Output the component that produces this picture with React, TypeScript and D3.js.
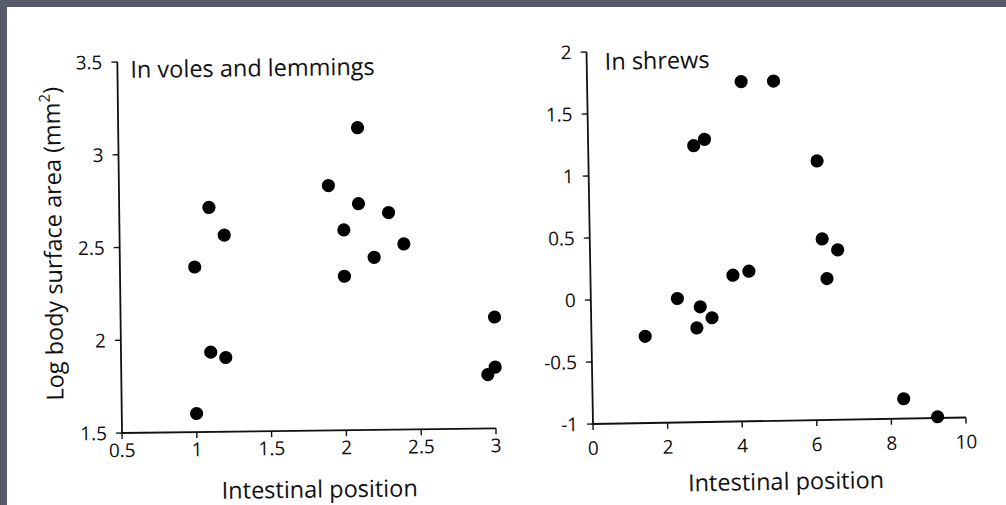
import React from "react";
import * as d3 from "d3";

// Voles and lemmings: intestinal position vs. log body surface area
const voleX = [1.1, 1.2, 1.0, 1.1, 1.2, 1.0, 2.1, 1.9, 2.1, 2.3, 2.0, 2.4, 2.2, 2.0, 3.0, 3.0, 2.95];
const voleY = [2.71, 2.56, 2.39, 1.93, 1.9, 1.6, 3.13, 2.82, 2.72, 2.67, 2.58, 2.5, 2.43, 2.33, 2.1, 1.83, 1.79];

// Shrews
const shrewX = [4.13, 5.0, 3.12, 2.83, 3.82, 4.25, 2.32, 2.93, 3.24, 2.83, 1.44, 6.13, 6.23, 6.64, 6.34, 8.34, 9.24];
const shrewY = [1.74, 1.74, 1.28, 1.23, 0.18, 0.21, 0.0, -0.07, -0.16, -0.24, -0.3, 1.09, 0.46, 0.37, 0.14, -0.84, -0.99];

const voleXTicks = [0.5, 1, 1.5, 2, 2.5, 3];
const voleXTickLabels = ["0.5", "1", "1.5", "2", "2.5", "3"];
const voleYTicks = [1.5, 2, 2.5, 3, 3.5];
const voleYTickLabels = ["1.5", "2", "2.5", "3", "3.5"];

const shrewXTicks = [0, 2, 4, 6, 8, 10];
const shrewXTickLabels = ["0", "2", "4", "6", "8", "10"];
const shrewYTicks = [-1, -0.5, 0, 0.5, 1, 1.5, 2];
const shrewYTickLabels = ["-1", "-0.5", "0", "0.5", "1", "1.5", "2"];

const FONT = "'Open Sans', 'Noto Sans', sans-serif";
const INK = "#111";

type PanelProps = {
  ox: number;
  oy: number;
  angle: number;
  width: number;
  height: number;
  xDomain: [number, number];
  yDomain: [number, number];
  xTicks: number[];
  xTickLabels: string[];
  yTicks: number[];
  yTickLabels: string[];
  xLabelOffset: number;
  xs: number[];
  ys: number[];
  title: string;
  titleX: number;
  titleY: number;
  xTitleX: number;
  xTitleY: number;
  yTitle?: boolean;
};

function Panel(p: PanelProps) {
  const x = d3.scaleLinear().domain(p.xDomain).range([0, p.width]);
  const y = d3.scaleLinear().domain(p.yDomain).range([0, -p.height]);
  const tick = 6;
  return (
    <g transform={`translate(${p.ox},${p.oy}) rotate(${p.angle})`} fontFamily={FONT} fill={INK}>
      {/* axes */}
      <line x1={0} y1={0} x2={p.width} y2={0} stroke={INK} strokeWidth={1.8} />
      <line x1={0} y1={0} x2={0} y2={-p.height} stroke={INK} strokeWidth={1.8} />
      {p.xTicks.map((t, i) => (
        <g key={"xt" + i} transform={`translate(${x(t)},0)`}>
          <line y1={0} y2={tick} stroke={INK} strokeWidth={1.4} />
          <text y={p.xLabelOffset} textAnchor="middle" fontSize={19}>
            {p.xTickLabels[i]}
          </text>
        </g>
      ))}
      {p.yTicks.map((t, i) => (
        <g key={"yt" + i} transform={`translate(0,${y(t)})`}>
          <line x1={0} x2={-tick} stroke={INK} strokeWidth={1.4} />
          <text x={-15} dy="0.36em" textAnchor="end" fontSize={19}>
            {p.yTickLabels[i]}
          </text>
        </g>
      ))}
      {p.xs.map((v, i) => (
        <circle key={"pt" + i} cx={x(v)} cy={y(p.ys[i])} r={6.6} fill="#000" />
      ))}
      <text x={p.titleX} y={p.titleY} fontSize={23.5}>
        {p.title}
      </text>
      <text x={p.xTitleX} y={p.xTitleY} fontSize={23.5} textAnchor="middle">
        Intestinal position
      </text>
      {p.yTitle && (
        <text transform="translate(-58,-190) rotate(-90)" fontSize={23.5} textAnchor="middle">
          Log body surface area (mm
          <tspan fontSize={15} dy={-10}>
            2
          </tspan>
          <tspan dy={10}>)</tspan>
        </text>
      )}
    </g>
  );
}

export default function App() {
  return (
    <div style={{ position: "absolute", left: 0, top: 0 }}>
      <svg width={1006} height={505} style={{ display: "block", background: "#fff" }}>
        <rect x={0} y={0} width={1006} height={505} fill="#fff" />
        <rect x={0} y={0} width={1006} height={7} fill="#595b6b" />
        <rect x={0} y={0} width={7} height={505} fill="#595b6b" />
        <Panel
          ox={122}
          oy={433}
          angle={-0.72}
          width={374}
          height={371}
          xDomain={[0.5, 3]}
          yDomain={[1.5, 3.5]}
          xTicks={voleXTicks}
          xTickLabels={voleXTickLabels}
          yTicks={voleYTicks}
          yTickLabels={voleYTickLabels}
          xLabelOffset={24}
          xs={voleX}
          ys={voleY}
          title="In voles and lemmings"
          titleX={13}
          titleY={-355}
          xTitleX={197}
          xTitleY={67}
          yTitle
        />
        <Panel
          ox={593}
          oy={424}
          angle={-1.0}
          width={373}
          height={372}
          xDomain={[0, 10]}
          yDomain={[-1, 2]}
          xTicks={shrewXTicks}
          xTickLabels={shrewXTickLabels}
          yTicks={shrewYTicks}
          yTickLabels={shrewYTickLabels}
          xLabelOffset={31}
          xs={shrewX}
          ys={shrewY}
          title="In shrews"
          titleX={18}
          titleY={-354}
          xTitleX={192}
          xTitleY={69}
        />
      </svg>
    </div>
  );
}
